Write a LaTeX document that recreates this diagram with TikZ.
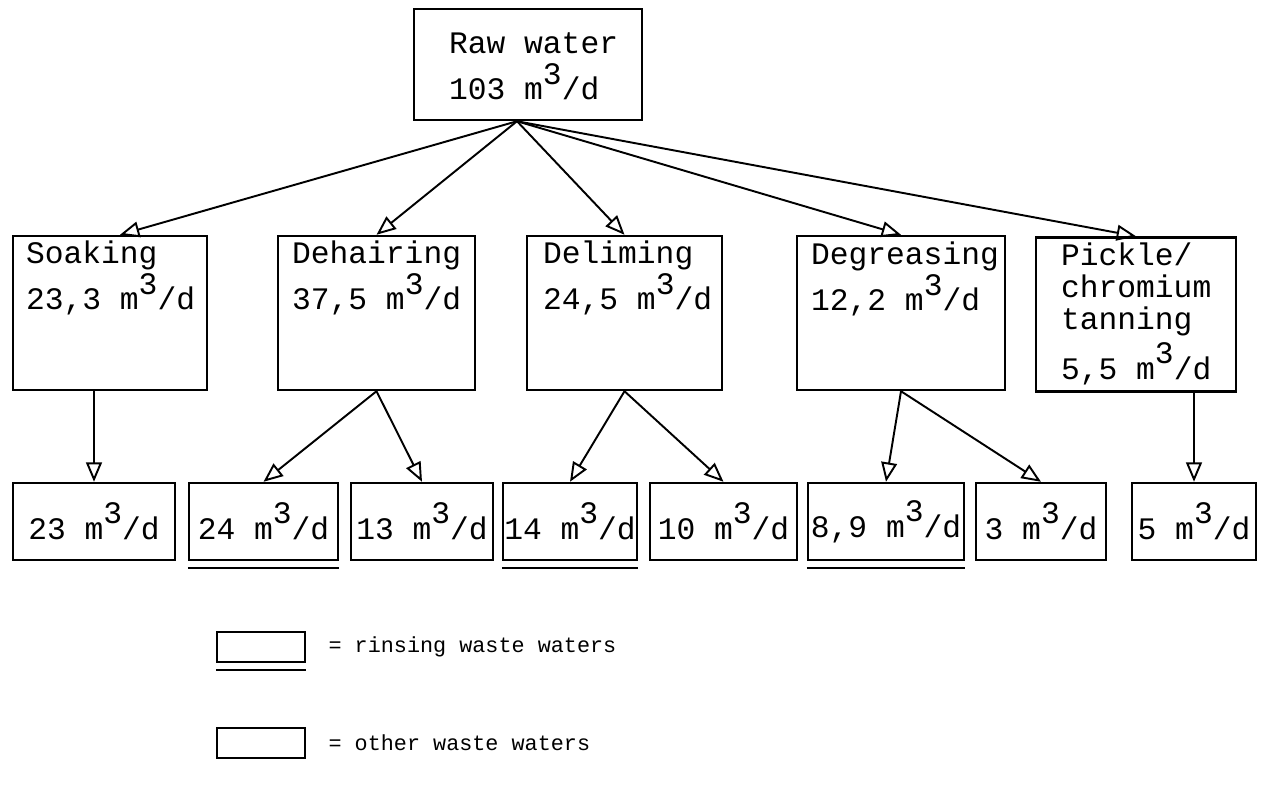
\documentclass[tikz,border=0pt]{standalone}
\usepackage{fontspec}
\setmonofont{Liberation Mono}
\usetikzlibrary{arrows.meta,positioning}

% flow rate with the cube written as a raised digit
\newcommand{\flow}[1]{#1 m\raisebox{0.5em}{3}/d}

\begin{document}
\begin{tikzpicture}[
    >={Triangle[open,length=11pt,width=9pt]},
    font=\ttfamily\fontsize{17.8}{18}\selectfont,
    stage/.style={
		rectangle,
		draw=black,
		line width=1.4pt,
		minimum width=#1,
		minimum height=3.08cm,
		inner sep=0pt
	},
    waste/.style={
		rectangle,
		draw=black,
		line width=1.4pt,
		minimum width=#1,
		minimum height=1.54cm,
		inner sep=0pt
	},
    txt/.style={
		anchor=base west,
		inner sep=0pt
	},
    keytext/.style={
		inner sep=0pt,
		font=\ttfamily\fontsize{12.4}{14}\selectfont
	},
    flowline/.style={
		->,
		line width=1.1pt
	}
  ]
  \useasboundingbox (0,0) rectangle (25.38,-15.76);

  % raw water supply
  \node [stage=4.56cm, minimum height=2.22cm] (raw) at (10.56,-1.29) {};
  \node [txt] (raw-t) at ([xshift=0.72cm, yshift=-0.92cm]raw.north west)
 {%
 \begin{tabular}[t]{@{}l@{}}
  Raw water\\
  \flow{103}
 \end{tabular}
 };

  % process stages
  \node [stage=3.88cm] (soak) at (2.2,-6.26) {};
  \node [stage=3.94cm] (dehair) at (7.53,-6.26) {};
  \node [stage=3.9cm] (delime) at (12.49,-6.26) {};
  \node [stage=4.16cm] (degrease) at (18.02,-6.26) {};
  \node [stage=4cm] (pickle) at (22.72,-6.29) {};

  \node [txt] (soak-t) at ([xshift=0.28cm, yshift=-0.58cm]soak.north west)
 {%
 \begin{tabular}[t]{@{}l@{}}
  Soaking\\
  \flow{23,3}
 \end{tabular}
 };
  \node [txt] (dehair-t) at ([xshift=0.3cm, yshift=-0.58cm]dehair.north west)
 {%
 \begin{tabular}[t]{@{}l@{}}
  Dehairing\\
  \flow{37,5}
 \end{tabular}
 };
  \node [txt] (delime-t) at ([xshift=0.34cm, yshift=-0.58cm]delime.north west)
 {%
 \begin{tabular}[t]{@{}l@{}}
  Deliming\\
  \flow{24,5}
 \end{tabular}
 };
  \node [txt] (degrease-t) at ([xshift=0.3cm, yshift=-0.6cm]degrease.north west)
 {%
 \begin{tabular}[t]{@{}l@{}}
  Degreasing\\
  \flow{12,2}
 \end{tabular}
 };
  \node [txt] (pickle-t) at ([xshift=0.52cm, yshift=-0.58cm]pickle.north west)
 {%
 \begin{tabular}[t]{@{}l@{}}
  Pickle/\\
  chromium\\
  tanning\\[2pt]
  \flow{5,5}
 \end{tabular}
 };

  % waste water streams
  \node [waste=3.24cm] (r23) at (1.88,-10.43) {\flow{23}};
  \node [waste=2.98cm] (r24) at (5.27,-10.43) {\flow{24}};
  \node [waste=2.84cm] (r13) at (8.44,-10.43) {\flow{13}};
  \node [waste=2.68cm] (r14) at (11.4,-10.43) {\flow{14}};
  \node [waste=2.94cm] (r10) at (14.47,-10.43) {\flow{10}};
  \node [waste=3.12cm] (r89) at (17.72,-10.43) {\flow{8,9}};
  \node [waste=2.6cm] (r3) at (20.82,-10.43) {\flow{3}};
  \node [waste=2.48cm] (r5) at (23.88,-10.43) {\flow{5}};

  % key
  \node [waste=1.76cm, minimum height=0.6cm] (key1) at (5.22,-12.94) {};
  \node [waste=1.76cm, minimum height=0.6cm] (key2) at (5.22,-14.86) {};
  \node [keytext, right=0.44cm of key1] (key1-t) {= rinsing waste waters};
  \node [keytext, right=0.44cm of key2] (key2-t) {= other waste waters};

  % rinsing streams get a second rule underneath
  \foreach \b in {r24,r14,r89,key1}
    \draw [line width=1.4pt] ([yshift=-0.14cm]\b.south west) -- ([yshift=-0.14cm]\b.south east);

  % arrows
  \coordinate (src) at ([xshift=-0.22cm]raw.south);
  \draw [flowline] (src) -- ([xshift=0.2cm]soak.north);
  \draw [flowline] (src) -- (dehair.north);
  \draw [flowline] (src) -- (delime.north);
  \draw [flowline] (src) -- (degrease.north);
  \draw [flowline] (src) -- (pickle.north);

  \draw [flowline] (soak.south -| r23.north) -- (r23.north);
  \draw [flowline] (dehair.south) -- (r24.north);
  \draw [flowline] (dehair.south) -- (r13.north);
  \draw [flowline] (delime.south) -- (r14.north);
  \draw [flowline] (delime.south) -- (r10.north);
  \draw [flowline] (degrease.south) -- (r89.north);
  \draw [flowline] (degrease.south) -- (r3.north);
  \draw [flowline] (pickle.south -| r5.north) -- (r5.north);

\end{tikzpicture}
\end{document}
